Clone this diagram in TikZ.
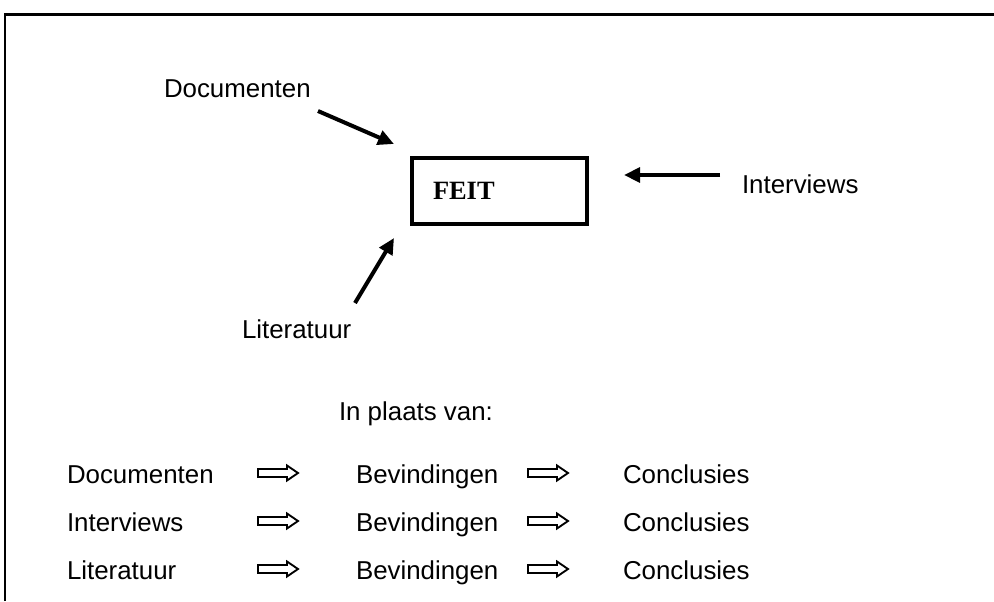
\documentclass[tikz,border=0pt]{standalone}
\usepackage{fontspec}
\setmainfont{Liberation Sans}
\newfontfamily\serifbold{Liberation Serif}
\usetikzlibrary{arrows.meta}
\begin{document}
\begin{tikzpicture}[x=0.75pt, y=-0.75pt,
  every node/.style={inner sep=0pt, outer sep=0pt, font=\fontsize{19.4pt}{23pt}\selectfont},
  lbl/.style={anchor=base west},
  feitbox/.style={draw, line width=2.6pt, minimum height=66*0.75pt,
    text width=133*0.75pt, inner xsep=21*0.75pt, align=left,
    font=\serifbold\bfseries\fontsize{19.8pt}{23pt}\selectfont},
  thick arrow/.style={line width=3pt, -{Triangle[length=12pt, width=11pt]}},
  hollow/.pic={\draw[line width=1.4pt, line join=miter]
      (0,-4) -- (29,-4) -- (29,-7.5) -- (40,0) -- (29,7.5) -- (29,4) -- (0,4) -- cycle;}
]
\useasboundingbox (0,0) rectangle (994,601);

% open frame: left side and top only
\draw[line width=1.6pt] (5,601) -- (5,14.5);
\draw[line width=2.2pt] (4.2,14.5) -- (994,14.5);

% central fact box
\node[feitbox] (feit) at (499.5,191) {FEIT};

% sources pointing at the fact
\node[lbl] (doc) at (164,97) {Documenten};
\node[lbl] (int) at (742,193) {Interviews};
\node[lbl] (lit) at (242,338) {Literatuur};

\coordinate (docA) at (318,111);
\coordinate (docB) at (394,144);
\coordinate (intA) at (720,175);
\coordinate (intB) at (624,175);
\coordinate (litA) at (355,303);
\coordinate (litB) at (394,238);
\draw[thick arrow] (docA) -- (docB);
\draw[thick arrow] (intA) -- (intB);
\draw[thick arrow] (litA) -- (litB);

% the usual sequence
\node[lbl] (instead) at (339,420) {In plaats van:};

\foreach \src/\y [count=\i] in {Documenten/483, Interviews/531, Literatuur/579}{
  \node[lbl] (a\i) at (67,\y) {\src};
  \node[lbl] (b\i) at (356,\y) {Bevindingen};
  \node[lbl] (c\i) at (623,\y) {Conclusies};
  \pic at (258,\y-10) {hollow};
  \pic at (528,\y-10) {hollow};
}
\end{tikzpicture}
\end{document}
